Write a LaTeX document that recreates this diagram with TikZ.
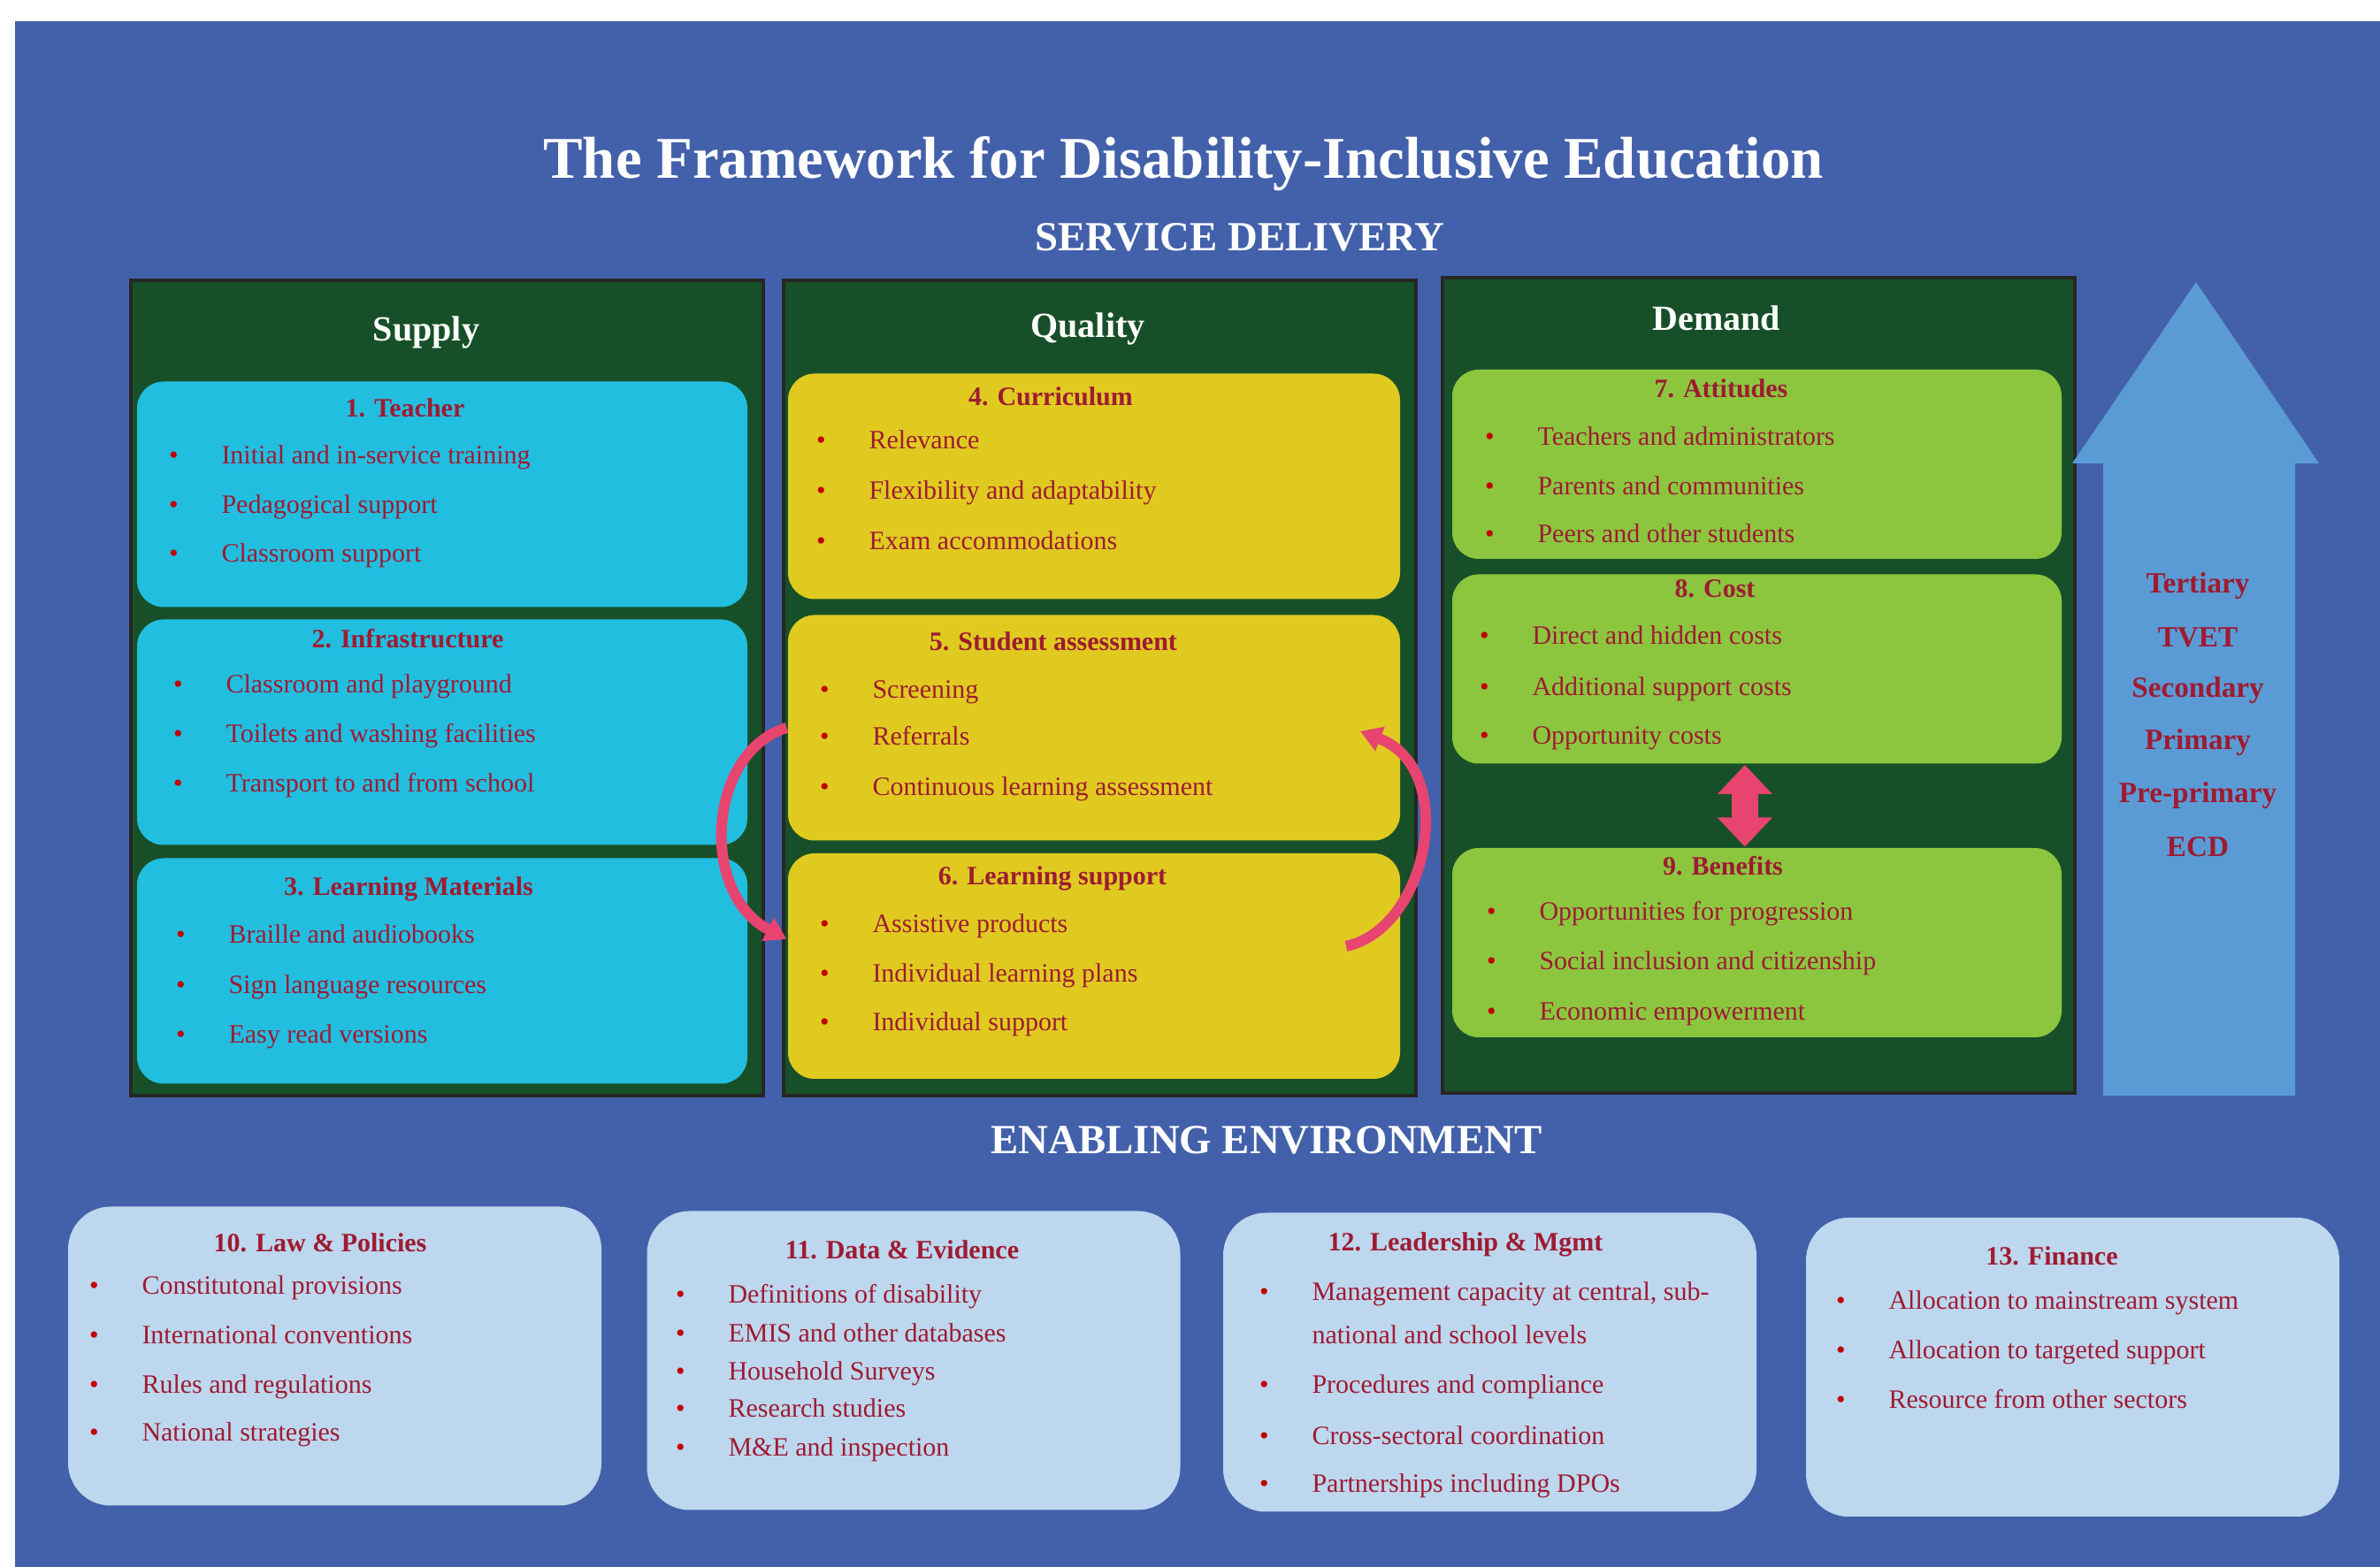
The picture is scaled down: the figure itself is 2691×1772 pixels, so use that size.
\documentclass[tikz,border=0pt]{standalone}
\usepackage{fontspec}
\setmainfont{Liberation Serif}
\usetikzlibrary{arrows.meta}

\definecolor{bgblue}{RGB}{67,97,170}
\definecolor{colgreen}{RGB}{23,80,40}
\definecolor{supcyan}{RGB}{34,190,224}
\definecolor{qualyellow}{RGB}{224,202,32}
\definecolor{demgreen}{RGB}{140,198,63}
\definecolor{envblue}{RGB}{189,215,238}
\definecolor{lvlblue}{RGB}{91,155,213}
\definecolor{txtred}{RGB}{158,27,50}
\definecolor{dotred}{RGB}{192,0,0}
\definecolor{pinkarr}{RGB}{232,68,112}

\newcommand{\bul}{\llap{\textcolor{dotred}{\textbullet}\hspace{12.2pt}}}

\tikzset{every picture/.style={line width=0.75pt},
  colbox/.style={draw=black!85, line width=0.8pt, fill=colgreen, minimum width=178.75pt, minimum height=230.5pt, inner sep=0pt},
  supbox/.style={fill=supcyan, rounded corners=7.5pt, minimum width=172.5pt, minimum height=63.75pt, inner sep=0pt},
  qualbox/.style={fill=qualyellow, rounded corners=7.5pt, minimum width=173pt, minimum height=63.75pt, inner sep=0pt},
  dembox/.style={fill=demgreen, rounded corners=7.5pt, minimum width=172.25pt, minimum height=53.5pt, inner sep=0pt},
  envbox/.style={fill=envblue, rounded corners=12pt, minimum width=150.75pt, minimum height=84.5pt, inner sep=0pt},
  coltitle/.style={font=\fontsize{10}{12}\selectfont\bfseries, text=white, inner sep=0pt},
  boxtitle/.style={font=\fontsize{7.5}{9}\selectfont\bfseries, text=txtred, inner sep=0pt},
  itemtext/.style={font=\fontsize{7.5}{9}\selectfont, text=txtred, anchor=base west, inner sep=0pt},
  lvltext/.style={font=\fontsize{8.3}{10}\selectfont\bfseries, text=txtred, inner sep=0pt},
  headtext/.style={font=\fontsize{11.7}{14}\selectfont\bfseries, text=white, inner sep=0pt},
  pinkcurve/.style={draw=pinkarr, line width=3pt, -{Triangle[width=7pt,length=6pt]}}
}

\begin{document}
\begin{tikzpicture}[x=0.25pt,y=0.25pt,yscale=-1,xscale=1]
\useasboundingbox (0,0) rectangle (2691,1772);

%Shape: Background
\fill [white] (0,0) rectangle (2691,1772);
\fill [bgblue] (17,24) rectangle (2691,1772);

% Text Node
\draw (1338,185) node (title) [font=\fontsize{16.7}{20}\selectfont\bfseries, text=white, inner sep=0pt] {The Framework for Disability-Inclusive Education};
% Text Node
\draw (1402,268) node (servT) [headtext] {SERVICE DELIVERY};

%Shape: Rectangle
\draw (505.5,778) node (sup) [colbox] {};
%Shape: Rectangle
\draw (1243.5,778) node (qual) [colbox] {};
%Shape: Rectangle
\draw (1988.5,775) node (dem) [colbox, minimum height=230.5pt] {};

% Text Node
\draw (482,376) node (supT) [coltitle] {Supply};
% Text Node
\draw (1230,372) node (qualT) [coltitle] {Quality};
% Text Node
\draw (1941,360) node (demT) [coltitle] {Demand};

%Rounded Rect
\draw (500,559) node (teach) [supbox] {};
%Rounded Rect
\draw (500,828) node (infra) [supbox] {};
%Rounded Rect
\draw (500,1098) node (mat) [supbox] {};
%Rounded Rect
\draw (1237,550) node (curr) [qualbox] {};
%Rounded Rect
\draw (1237,823) node (assess) [qualbox] {};
%Rounded Rect
\draw (1237,1092.5) node (lsup) [qualbox] {};
%Rounded Rect
\draw (1986.5,525) node (att) [dembox] {};
%Rounded Rect
\draw (1986.5,756.5) node (cost) [dembox] {};
%Rounded Rect
\draw (1986.5,1066) node (ben) [dembox] {};

% Text Node
\draw (458,461) node (teachT) [boxtitle] {1. Teacher};
\draw (249,525) node (i1a) [itemtext] {\bul Initial and in-service training};
\draw (249,581) node (i1b) [itemtext] {\bul Pedagogical support};
\draw (249,636) node (i1c) [itemtext] {\bul Classroom support};
% Text Node
\draw (461,722) node (infraT) [boxtitle] {2. Infrastructure};
\draw (254,784) node (i2a) [itemtext] {\bul Classroom and playground};
\draw (254,840) node (i2b) [itemtext] {\bul Toilets and washing facilities};
\draw (254,896) node (i2c) [itemtext] {\bul Transport to and from school};
% Text Node
\draw (462,1005) node (matT) [boxtitle] {3. Learning Materials};
\draw (257,1067) node (i3a) [itemtext] {\bul Braille and audiobooks};
\draw (257,1124) node (i3b) [itemtext] {\bul Sign language resources};
\draw (257,1180) node (i3c) [itemtext] {\bul Easy read versions};

% Text Node
\draw (1188,448) node (currT) [boxtitle] {4. Curriculum};
\draw (981,508) node (i4a) [itemtext] {\bul Relevance};
\draw (981,565) node (i4b) [itemtext] {\bul Flexibility and adaptability};
\draw (981,622) node (i4c) [itemtext] {\bul Exam accommodations};
% Text Node
\draw (1191,725) node (assessT) [boxtitle] {5. Student assessment};
\draw (985,790) node (i5a) [itemtext] {\bul Screening};
\draw (985,843) node (i5b) [itemtext] {\bul Referrals};
\draw (985,900) node (i5c) [itemtext] {\bul Continuous learning assessment};
% Text Node
\draw (1190,993) node (lsupT) [boxtitle] {6. Learning support};
\draw (985,1055) node (i6a) [itemtext] {\bul Assistive products};
\draw (985,1111) node (i6b) [itemtext] {\bul Individual learning plans};
\draw (985,1166) node (i6c) [itemtext] {\bul Individual support};

% Text Node
\draw (1946,439) node (attT) [boxtitle] {7. Attitudes};
\draw (1737,504) node (i7a) [itemtext] {\bul Teachers and administrators};
\draw (1737,560) node (i7b) [itemtext] {\bul Parents and communities};
\draw (1737,614) node (i7c) [itemtext] {\bul Peers and other students};
% Text Node
\draw (1939,666) node (costT) [boxtitle] {8. Cost};
\draw (1731,729) node (i8a) [itemtext] {\bul Direct and hidden costs};
\draw (1731,787) node (i8b) [itemtext] {\bul Additional support costs};
\draw (1731,842) node (i8c) [itemtext] {\bul Opportunity costs};
% Text Node
\draw (1948,979) node (benT) [boxtitle] {9. Benefits};
\draw (1739,1041) node (i9a) [itemtext] {\bul Opportunities for progression};
\draw (1739,1097) node (i9b) [itemtext] {\bul Social inclusion and citizenship};
\draw (1739,1154) node (i9c) [itemtext] {\bul Economic empowerment};

%Shape: Up Arrow
\draw [fill=lvlblue, draw=none] (2378,1239) -- (2378,524) -- (2343,524) -- (2483,319) -- (2622,524) -- (2595,524) -- (2595,1239) -- cycle ;
% Text Node
\draw (2485,663) node (lvl1) [lvltext] {Tertiary};
\draw (2485,721) node (lvl2) [lvltext] {TVET};
\draw (2485,781) node (lvl3) [lvltext] {Secondary};
\draw (2485,840) node (lvl4) [lvltext] {Primary};
\draw (2485,900) node (lvl5) [lvltext] {Pre-primary};
\draw (2485,958) node (lvl6) [lvltext] {ECD};

%Curve Lines
\draw [pinkcurve] (assess.west) .. controls (800,850) and (790,1010) .. (lsup.175) ;
%Curve Lines
\coordinate (rtail) at (1522,1070);
\coordinate (rhead) at (1538,827);
\draw [pinkcurve] (rtail) .. controls (1615,1050) and (1650,870) .. (rhead) ;
%Straight Lines
\draw [draw=pinkarr, line width=7.5pt, {Triangle[width=15pt,length=8.25pt]}-{Triangle[width=15pt,length=8.25pt]}] ([xshift=-3.4pt]cost.south) -- ([xshift=-3.4pt]ben.north) ;

% Text Node
\draw (1432,1289) node (envT) [headtext] {ENABLING ENVIRONMENT};

%Rounded Rect
\draw (378.5,1533.5) node (law) [envbox] {};
%Rounded Rect
\draw (1033,1538.5) node (data) [envbox] {};
%Rounded Rect
\draw (1684.5,1540.5) node (lead) [envbox] {};
%Rounded Rect
\draw (2343.5,1546) node (fin) [envbox] {};

% Text Node
\draw (362,1405) node (lawT) [boxtitle] {10. Law \& Policies};
\draw (159,1464) node (i10a) [itemtext] {\bul Constitutonal provisions};
\draw (159,1520) node (i10b) [itemtext] {\bul International conventions};
\draw (159,1576) node (i10c) [itemtext] {\bul Rules and regulations};
\draw (159,1630) node (i10d) [itemtext] {\bul National strategies};
% Text Node
\draw (1020,1413) node (dataT) [boxtitle] {11. Data \& Evidence};
\draw (822,1474) node (i11a) [itemtext] {\bul Definitions of disability};
\draw (822,1518) node (i11b) [itemtext] {\bul EMIS and other databases};
\draw (822,1561) node (i11c) [itemtext] {\bul Household Surveys};
\draw (822,1603) node (i11d) [itemtext] {\bul Research studies};
\draw (822,1647) node (i11e) [itemtext] {\bul M\&E and inspection};
% Text Node
\draw (1657,1407) node (leadT) [boxtitle] {12. Leadership \& Mgmt};
\draw (1482,1471) node (i12a) [itemtext] {\bul Management capacity at central, sub-};
\draw (1482,1520) node (i12a2) [itemtext] {national and school levels};
\draw (1482,1576) node (i12b) [itemtext] {\bul Procedures and compliance};
\draw (1482,1634) node (i12c) [itemtext] {\bul Cross-sectoral coordination};
\draw (1482,1688) node (i12d) [itemtext] {\bul Partnerships including DPOs};
% Text Node
\draw (2320,1420) node (finT) [boxtitle] {13. Finance};
\draw (2134,1481) node (i13a) [itemtext] {\bul Allocation to mainstream system};
\draw (2134,1537) node (i13b) [itemtext] {\bul Allocation to targeted support};
\draw (2134,1593) node (i13c) [itemtext] {\bul Resource from other sectors};

\end{tikzpicture}
\end{document}
